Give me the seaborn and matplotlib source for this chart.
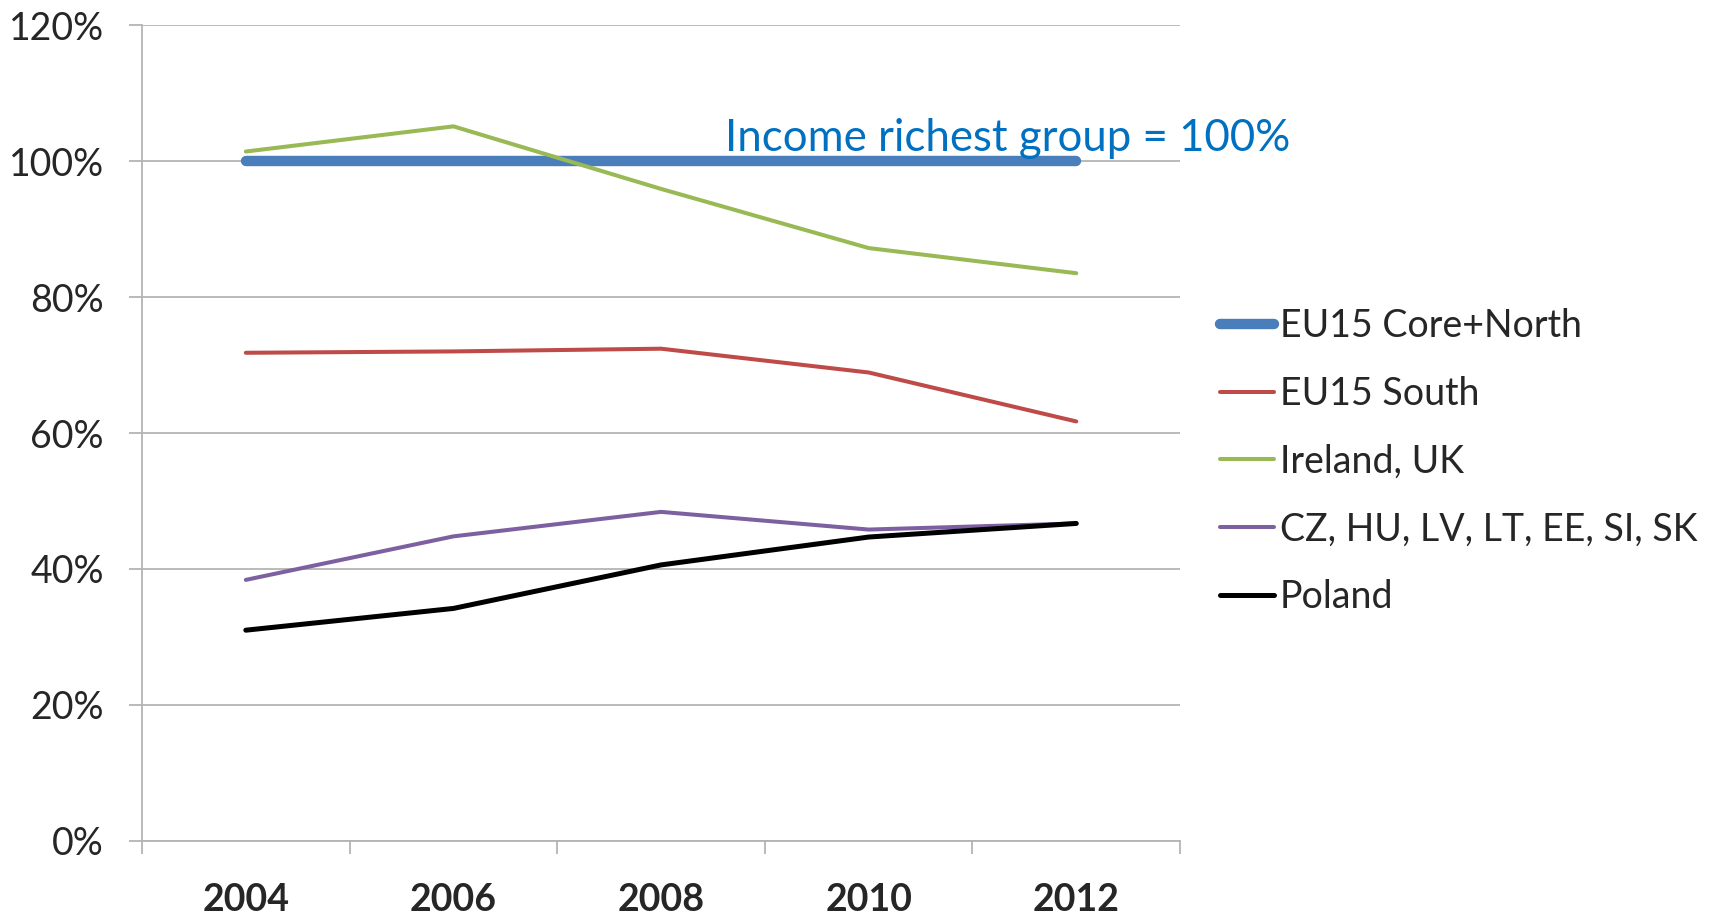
import matplotlib
matplotlib.use("Agg")
import matplotlib.pyplot as plt
import seaborn as sns
import pandas as pd
from matplotlib.ticker import FixedLocator, PercentFormatter

# Relative income of each group of countries (richest group = 100%)
years = ["2004", "2006", "2008", "2010", "2012"]
groups = ["EU15 Core+North", "EU15 South", "Ireland, UK",
          "CZ, HU, LV, LT, EE, SI, SK", "Poland"]
core_north = [100.0, 100.0, 100.0, 100.0, 100.0]
south = [71.8, 72.0, 72.4, 68.9, 61.7]
ireland_uk = [101.4, 105.1, 95.9, 87.2, 83.5]
cee_group = [38.4, 44.8, 48.4, 45.8, 46.7]
poland = [31.0, 34.2, 40.6, 44.7, 46.7]
annotation = "Income richest group = 100%"

series = [core_north, south, ireland_uk, cee_group, poland]
colors = ["#4A7EBB", "#BE4B48", "#98B954", "#7D60A0", "#000000"]
widths = [7.5, 2.9, 2.9, 2.9, 3.6]

rows = []
for g, vals in zip(groups, series):
    for i, (y, v) in enumerate(zip(years, vals)):
        rows.append({"group": g, "pos": i, "year": y, "value": v})
df = pd.DataFrame(rows)

sns.set_theme(style="white")
plt.rcParams["font.family"] = ["Lato", "DejaVu Sans"]

fig = plt.figure(figsize=(17.13, 9.14), dpi=100)
ax = fig.add_axes([0.0829, 0.0799, 0.606, 0.8927])

for g, c, w in zip(groups, colors, widths):
    sns.lineplot(data=df[df["group"] == g], x="pos", y="value", ax=ax,
                 color=c, linewidth=w, label=g, solid_capstyle="round",
                 zorder=3 if g != groups[0] else 2)

ax.set_xlim(-0.5, len(years) - 0.5)
ax.set_ylim(0, 120)
ax.set_xlabel("")
ax.set_ylabel("")

# y axis: percent ticks with horizontal gridlines
ax.yaxis.set_major_locator(FixedLocator([0, 20, 40, 60, 80, 100, 120]))
ax.yaxis.set_major_formatter(PercentFormatter(decimals=0))
ax.grid(axis="y", color="#B4B4B4", linewidth=1.3)
ax.tick_params(axis="y", which="major", left=True, length=9.4, width=1.3,
               color="#B4B4B4", pad=18, labelsize=27)

# x axis: category ticks between years, labels centred on years
ax.xaxis.set_major_locator(FixedLocator([i - 0.5 for i in range(len(years) + 1)]))
ax.xaxis.set_minor_locator(FixedLocator(list(range(len(years)))))
ax.set_xticklabels([""] * (len(years) + 1))
ax.set_xticklabels(years, minor=True, fontweight="bold")
ax.tick_params(axis="x", which="major", bottom=True, length=9.4, width=1.3,
               color="#B4B4B4")
ax.tick_params(axis="x", which="minor", bottom=True, length=0, pad=30,
               labelsize=27)

for side in ["top", "right"]:
    ax.spines[side].set_visible(False)
for side in ["left", "bottom"]:
    ax.spines[side].set_color("#B4B4B4")
    ax.spines[side].set_linewidth(1.3)
ax.set_axisbelow(True)

ax.text(2.31, 103.3, annotation, color="#0070C0", fontsize=31.5,
        ha="left", va="center", clip_on=False, zorder=4)

ax.legend(loc="center left", bbox_to_anchor=(0.712, 0.495),
          bbox_transform=fig.transFigure, frameon=False, fontsize=27,
          handlelength=1.45, handletextpad=0.15, labelspacing=0.85,
          borderpad=0, borderaxespad=0)

fig.savefig("out.png", dpi=100)
